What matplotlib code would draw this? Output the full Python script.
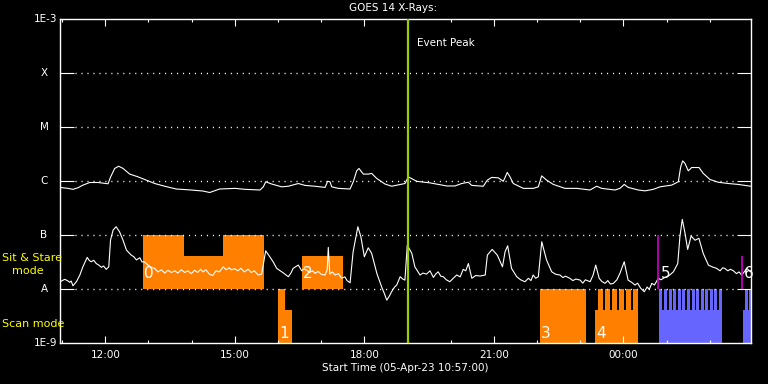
import matplotlib
matplotlib.use('Agg')
import matplotlib.pyplot as plt
from matplotlib.ticker import FixedLocator, NullLocator
import matplotlib.transforms as mtransforms

# time in hours since 05-Apr-23 00:00, flux in W/m^2
t_long = [10.95, 11.135, 11.25, 11.367, 11.483, 11.638, 11.83, 12.062, 12.124, 12.217,
          12.31, 12.41, 12.565, 12.757, 12.912, 13.144, 13.375, 13.644, 13.991, 14.262,
          14.418, 14.649, 15.004, 15.235, 15.583, 15.66, 15.715, 15.854, 16.086, 16.238,
          16.47, 16.625, 16.857, 17.089, 17.151, 17.204, 17.244, 17.397, 17.668, 17.744,
          17.823, 17.876, 17.976, 18.092, 18.17, 18.286, 18.478, 18.633, 18.942, 19.018,
          19.213, 19.521, 19.908, 20.1, 20.255, 20.408, 20.487, 20.756, 20.848, 20.95,
          21.103, 21.219, 21.311, 21.374, 21.45, 21.682, 21.914, 22.03, 22.108, 22.224,
          22.377, 22.648, 22.919, 23.227, 23.382, 23.498, 23.806, 23.922, 24.021, 24.114,
          24.346, 24.501, 24.693, 24.849, 25.12, 25.273, 25.328, 25.375, 25.428, 25.504,
          25.583, 25.752, 25.851, 26.007, 26.199, 26.431, 26.662, 26.95]
f_long = [7.7e-7, 7.4e-7, 7.1e-7, 7.6e-7, 8.5e-7, 9.5e-7, 9.5e-7, 9.0e-7, 1.21e-6, 1.73e-6,
          1.9e-6, 1.73e-6, 1.36e-6, 1.21e-6, 1.08e-6, 9.1e-7, 8.1e-7, 7.2e-7, 6.9e-7, 6.6e-7,
          6.2e-7, 7.2e-7, 7.4e-7, 7.1e-7, 6.9e-7, 7.9e-7, 9.8e-7, 8.9e-7, 7.9e-7, 8.1e-7,
          9.1e-7, 8.4e-7, 8.1e-7, 7.7e-7, 1.0e-6, 9.8e-7, 7.9e-7, 7.4e-7, 7.2e-7, 9.8e-7,
          1.56e-6, 1.73e-6, 1.36e-6, 1.36e-6, 1.40e-6, 1.13e-6, 8.9e-7, 8.1e-7, 9.1e-7, 1.21e-6,
          1.0e-6, 9.35e-7, 8.2e-7, 8.2e-7, 9.1e-7, 9.6e-7, 8.4e-7, 8.1e-7, 1.05e-6, 1.18e-6,
          1.16e-6, 1.0e-6, 1.46e-6, 1.21e-6, 9.1e-7, 7.4e-7, 7.4e-7, 7.9e-7, 1.26e-6, 1.05e-6,
          8.75e-7, 7.4e-7, 7.4e-7, 6.9e-7, 8.1e-7, 7.4e-7, 6.9e-7, 7.4e-7, 8.75e-7, 7.7e-7,
          6.9e-7, 6.65e-7, 7.1e-7, 7.9e-7, 8.5e-7, 9.8e-7, 1.85e-6, 2.39e-6, 2.14e-6, 1.56e-6,
          1.80e-6, 1.80e-6, 1.40e-6, 1.08e-6, 9.6e-7, 9.1e-7, 8.75e-7, 8.1e-7]

t_short = [10.95, 11.06, 11.12, 11.175, 11.21, 11.25, 11.33, 11.41, 11.48, 11.58,
           11.63, 11.675, 11.73, 11.79, 11.85, 11.91, 11.96, 12.02, 12.08, 12.12,
           12.18, 12.25, 12.33, 12.41, 12.49, 12.60, 12.66, 12.72, 12.80, 12.85,
           12.90, 12.99, 13.06, 13.14, 13.22, 13.30, 13.375, 13.45, 13.53, 13.61,
           13.68, 13.76, 13.84, 13.91, 13.99, 14.07, 14.14, 14.21, 14.26, 14.33,
           14.41, 14.49, 14.56, 14.64, 14.73, 14.80, 14.87, 14.92, 15.0, 15.07,
           15.14, 15.22, 15.31, 15.38, 15.45, 15.54, 15.62, 15.715, 15.81, 15.89,
           15.97, 16.05, 16.12, 16.24, 16.30, 16.35, 16.47, 16.55, 16.60, 16.665,
           16.73, 16.80, 16.86, 16.93, 17.0, 17.09, 17.14, 17.165, 17.20, 17.26,
           17.32, 17.40, 17.475, 17.55, 17.60, 17.67, 17.74, 17.85, 17.92, 18.0,
           18.09, 18.17, 18.29, 18.40, 18.46, 18.52, 18.58, 18.63, 18.70, 18.75,
           18.83, 18.89, 18.94, 18.995, 19.10, 19.17, 19.29, 19.36, 19.44, 19.52,
           19.60, 19.65, 19.71, 19.77, 19.83, 19.90, 19.98, 20.06, 20.14, 20.22,
           20.29, 20.35, 20.41, 20.49, 20.58, 20.68, 20.80, 20.85, 20.96, 21.08,
           21.20, 21.26, 21.32, 21.41, 21.53, 21.62, 21.72, 21.80, 21.86, 21.91,
           21.97, 22.03, 22.11, 22.22, 22.34, 22.43, 22.53, 22.60, 22.66, 22.76,
           22.83, 22.90, 23.0, 23.06, 23.12, 23.23, 23.30, 23.36, 23.44, 23.50,
           23.575, 23.64, 23.70, 23.77, 23.85, 23.92, 24.02, 24.11, 24.19, 24.27,
           24.33, 24.40, 24.485, 24.55, 24.60, 24.66, 24.72, 24.81, 24.87, 24.965,
           25.06, 25.16, 25.26, 25.31, 25.365, 25.43, 25.49, 25.57, 25.66, 25.75,
           25.85, 25.97, 26.06, 26.16, 26.24, 26.30, 26.35, 26.42, 26.48, 26.55,
           26.62, 26.68, 26.74, 26.80, 26.86, 26.95]
f_short = [1.38e-8, 1.53e-8, 1.45e-8, 1.35e-8, 1.42e-8, 1.16e-8, 1.38e-8, 1.84e-8, 2.61e-8, 3.9e-8,
           3.4e-8, 3.24e-8, 3.45e-8, 3.0e-8, 2.8e-8, 2.55e-8, 2.7e-8, 2.34e-8, 2.61e-8, 8.1e-8,
           1.25e-7, 1.44e-7, 1.16e-7, 8.1e-8, 5.3e-8, 4.3e-8, 4.0e-8, 3.5e-8, 3.84e-8, 3.2e-8,
           3.24e-8, 2.81e-8, 2.55e-8, 2.44e-8, 2.1e-8, 2.3e-8, 2.0e-8, 2.25e-8, 2.05e-8, 2.2e-8,
           2.0e-8, 2.3e-8, 2.05e-8, 2.2e-8, 1.95e-8, 2.25e-8, 2.05e-8, 2.35e-8, 2.1e-8, 2.3e-8,
           1.9e-8, 1.8e-8, 2.2e-8, 2.1e-8, 2.6e-8, 2.3e-8, 2.5e-8, 2.3e-8, 2.4e-8, 2.2e-8,
           2.45e-8, 2.1e-8, 2.35e-8, 2.05e-8, 2.2e-8, 1.84e-8, 1.91e-8, 5.16e-8, 4.0e-8, 3.2e-8,
           2.44e-8, 2.2e-8, 2.02e-8, 1.71e-8, 2.0e-8, 2.44e-8, 2.81e-8, 2.2e-8, 2.4e-8, 2.27e-8,
           2.05e-8, 2.2e-8, 1.97e-8, 2.15e-8, 1.9e-8, 1.84e-8, 2.3e-8, 5.97e-8, 1.91e-8, 2.1e-8,
           1.84e-8, 1.95e-8, 1.6e-8, 1.7e-8, 1.45e-8, 1.32e-8, 4.95e-8, 1.44e-7, 9.4e-8, 4.0e-8,
           5.87e-8, 4.62e-8, 1.97e-8, 1.11e-8, 8.5e-9, 6.3e-9, 7.5e-9, 9.0e-9, 1.1e-8, 1.2e-8,
           1.71e-8, 1.55e-8, 1.48e-8, 6.6e-8, 4.62e-8, 2.61e-8, 1.84e-8, 2.0e-8, 1.91e-8, 2.2e-8,
           1.66e-8, 1.9e-8, 2.11e-8, 1.75e-8, 1.71e-8, 1.5e-8, 1.38e-8, 1.6e-8, 1.84e-8, 1.7e-8,
           2.34e-8, 2.2e-8, 3.0e-8, 1.6e-8, 1.8e-8, 1.76e-8, 1.84e-8, 4.3e-8, 5.48e-8, 4.3e-8,
           2.61e-8, 4.95e-8, 6.4e-8, 2.44e-8, 1.71e-8, 1.5e-8, 1.38e-8, 1.6e-8, 1.45e-8, 1.84e-8,
           1.6e-8, 1.71e-8, 7.6e-8, 3.5e-8, 2.11e-8, 1.9e-8, 1.84e-8, 1.65e-8, 1.75e-8, 1.6e-8,
           1.45e-8, 1.55e-8, 1.48e-8, 1.3e-8, 1.5e-8, 1.38e-8, 1.84e-8, 2.81e-8, 1.6e-8, 1.4e-8,
           1.29e-8, 1.45e-8, 1.25e-8, 1.29e-8, 1.5e-8, 1.97e-8, 3.24e-8, 1.48e-8, 1.35e-8, 1.2e-8,
           1.3e-8, 1.05e-8, 9.0e-9, 1.1e-8, 1.0e-8, 1.29e-8, 1.2e-8, 1.6e-8, 1.5e-8, 1.66e-8,
           1.8e-8, 2.11e-8, 3.0e-8, 9.4e-8, 1.97e-7, 1.08e-7, 5.48e-8, 9.7e-8, 8.1e-8, 8.8e-8,
           4.62e-8, 2.81e-8, 2.6e-8, 2.44e-8, 2.2e-8, 2.5e-8, 2.44e-8, 2.2e-8, 2.35e-8, 2.2e-8,
           1.95e-8, 2.1e-8, 1.84e-8, 2.1e-8, 2.44e-8, 2.1e-8]

# observation mode blocks: start, end, bottom, top
orange_start = [12.873, 13.815, 14.726, 16.556, 16.0, 16.162, 22.069, 23.343,
                23.419, 23.581, 23.743, 23.905, 24.067, 24.229]
orange_end = [13.815, 14.726, 15.676, 17.499, 16.162, 16.324, 23.127, 24.332,
              23.519, 23.681, 23.843, 24.005, 24.167, 24.329]
orange_low = [1e-8, 1e-8, 1e-8, 1e-8, 1e-9, 1e-9, 1e-9, 1e-9,
              4.1e-9, 4.1e-9, 4.1e-9, 4.1e-9, 4.1e-9, 4.1e-9]
orange_high = [1e-7, 4.1e-8, 1e-7, 4.1e-8, 1e-8, 4.1e-9, 1e-8, 4.1e-9,
               1e-8, 1e-8, 1e-8, 1e-8, 1e-8, 1e-8]

blue_start = [24.832, 26.771, 24.832, 24.94, 25.05, 25.15, 25.26, 25.36, 25.47, 25.58,
              25.68, 25.79, 25.90, 26.00, 26.11, 26.215, 26.817, 26.90]
blue_end = [26.285, 26.95, 24.902, 25.01, 25.12, 25.22, 25.33, 25.43, 25.54, 25.65,
            25.75, 25.86, 25.97, 26.07, 26.18, 26.285, 26.88, 26.95]
blue_low = [1e-9, 1e-9] + [4.1e-9] * 16
blue_high = [4.1e-9, 4.1e-9] + [1e-8] * 16

block_labels = ['0', '1', '2', '3', '4', '5', '6']
label_t = [12.90, 16.03, 16.58, 22.09, 23.37, 24.86, 26.79]
label_f = [1.6e-8, 1.25e-9, 1.6e-8, 1.25e-9, 1.25e-9, 1.6e-8, 1.6e-8]

marker_t = [24.81, 26.755]
marker_top = [1e-7, 4.1e-8]

peak_t = 19.0

level_vals = [1e-3, 1e-4, 1e-5, 1e-6, 1e-7, 1e-8, 1e-9]
level_names = ['1E-3', 'X', 'M', 'C', 'B', 'A', '1E-9']

major_hours = [12, 15, 18, 21, 24]
major_labels = ['12:00', '15:00', '18:00', '21:00', '00:00']
minor_hours = [11, 13, 14, 16, 17, 19, 20, 22, 23, 25, 26]

fs = 7.5
fig = plt.figure(figsize=(7.68, 3.84), dpi=100, facecolor='black')
ax = fig.add_axes([60 / 768, 40.7 / 384, 690.7 / 768, 324 / 384], facecolor='black')
ax.set_yscale('log')
ax.set_xlim(10.95, 26.95)
ax.set_ylim(1e-9, 1e-3)

for i in range(len(orange_start)):
    ax.bar(orange_start[i], orange_high[i] - orange_low[i], bottom=orange_low[i],
           width=orange_end[i] - orange_start[i], align='edge', color='#ff8000',
           linewidth=0, zorder=1)
for i in range(len(blue_start)):
    ax.bar(blue_start[i], blue_high[i] - blue_low[i], bottom=blue_low[i],
           width=blue_end[i] - blue_start[i], align='edge', color='#6666ff',
           linewidth=0, zorder=1)

# grid lines
for v in level_vals[1:-1]:
    ax.axhline(v, xmin=0.022, xmax=0.978, color='white', lw=1.0,
               linestyle=(0, (0.8, 3.5)), zorder=2)

ax.plot(t_long, f_long, color='white', lw=0.8, zorder=3)
ax.plot(t_short, f_short, color='white', lw=0.8, zorder=3)

for i in range(len(marker_t)):
    ax.vlines(marker_t[i], 1e-8, marker_top[i], color='#cc00cc', lw=1.2, zorder=4)

for i in range(len(block_labels)):
    ax.text(label_t[i], label_f[i], block_labels[i], color='white', fontsize=11,
            va='baseline', ha='left', zorder=5)

ax.axvline(peak_t, color='#9acd00', lw=1.6, zorder=6)
ax.text(peak_t + 0.22, 3.6e-4, 'Event Peak', color='white', fontsize=fs,
        va='center', ha='left')

# axes styling
for s in ax.spines.values():
    s.set_color('white')
    s.set_linewidth(1)
ax.yaxis.set_major_locator(FixedLocator(level_vals[1:-1]))
ax.yaxis.set_minor_locator(NullLocator())
ax.tick_params(axis='y', which='major', direction='in', length=10, width=0.8,
               color='white', left=True, right=True, labelleft=False)
ax.xaxis.set_major_locator(FixedLocator(major_hours))
ax.xaxis.set_minor_locator(FixedLocator(minor_hours))
ax.set_xticklabels(major_labels)
ax.tick_params(axis='x', which='major', direction='in', length=5, width=0.8,
               color='white', top=True, bottom=True, labelcolor='white',
               labelsize=fs, pad=4.5)
ax.tick_params(axis='x', which='minor', direction='in', length=2.5, width=0.8,
               color='white', top=True, bottom=True)

trans = mtransforms.blended_transform_factory(fig.transFigure, ax.transData)
for v, name in zip(level_vals, level_names):
    if name.startswith('1E'):
        ax.text(57 / 768, v, name, transform=trans, color='white', fontsize=fs,
                ha='right', va='center')
    else:
        ax.text(44 / 768, v, name, transform=trans, color='white', fontsize=fs,
                ha='center', va='center')

fs_mode = 8
fig.text(2 / 768, 1 - 258 / 384, 'Sit & Stare', color='yellow', fontsize=fs_mode,
         ha='left', va='center')
fig.text(12 / 768, 1 - 271.5 / 384, 'mode', color='yellow', fontsize=fs_mode,
         ha='left', va='center')
fig.text(2 / 768, 1 - 324 / 384, 'Scan mode', color='yellow', fontsize=fs_mode,
         ha='left', va='center')

fig.text(393 / 768, 1 - 8 / 384, 'GOES 14 X-Rays:', color='white', fontsize=fs,
         ha='center', va='center')
fig.text(405 / 768, 1 - 368 / 384, 'Start Time (05-Apr-23 10:57:00)', color='white',
         fontsize=fs, ha='center', va='center')

fig.savefig('out.png', dpi=100, facecolor='black')
